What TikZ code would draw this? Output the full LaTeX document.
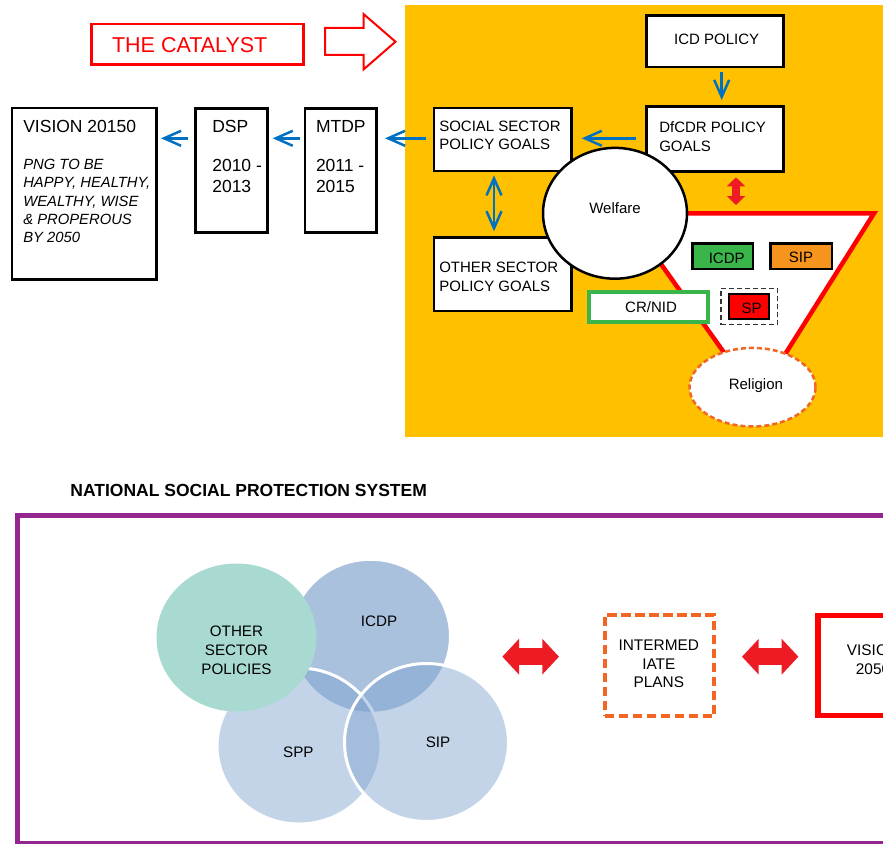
\documentclass[tikz,border=0pt]{standalone}
\usepackage{fontspec}
\setmainfont{Liberation Sans}
\usetikzlibrary{arrows.meta,shapes.geometric}

\definecolor{panelyellow}{RGB}{255,192,0}
\definecolor{flowblue}{RGB}{0,112,192}
\definecolor{boldred}{RGB}{237,28,36}
\definecolor{goodgreen}{RGB}{57,181,74}
\definecolor{siporange}{RGB}{247,148,29}
\definecolor{dashorange}{RGB}{242,101,34}
\definecolor{framepurple}{RGB}{147,39,143}
\definecolor{vennblue}{RGB}{124,160,205}
\definecolor{vennteal}{RGB}{168,218,210}

\newcommand\setfs[2]{\fontsize{#1pt}{#2pt}\selectfont}

\tikzset{
  box/.style={draw=black, line width=2.5pt, fill=white, inner sep=0pt, outer sep=0pt},
  lbl/.style={inner sep=0pt, outer sep=0pt},
  blocktxt/.style={lbl, anchor=north west, align=left},
  barb/.tip={Straight Barb[length=17pt,width=15pt]},
  flow/.style={draw=flowblue, line width=2.5pt, -barb},
  flowboth/.style={draw=flowblue, line width=2.5pt, barb-barb},
  redlink/.style={draw=boldred, line width=8pt,
    {Triangle[length=9pt,width=18pt]}-{Triangle[length=9pt,width=18pt]}},
  fatlink/.style={draw=boldred, line width=16.7pt,
    {Triangle[length=16.7pt,width=34.7pt]}-{Triangle[length=16.7pt,width=34.7pt]}},
  tag/.style={draw=black, line width=2.5pt, inner sep=0pt, outer sep=0pt},
  venn/.style={ellipse, draw=white, line width=3pt, inner sep=0pt, outer sep=0pt},
}

\begin{document}
\begin{tikzpicture}[x=1pt,y=-1pt]
\useasboundingbox (0,0) rectangle (883,843);
\clip (0,0) rectangle (883,843);

% ---------- policy panel background ----------
\fill[panelyellow] (405,5) rectangle (895,437);

% ---------- the catalyst ----------
\node[draw=red, line width=2.5pt, inner sep=0pt, outer sep=0pt,
      minimum width=212.4pt, minimum height=40.7pt] (catalyst) at (197.5,44.35) {};
\node[lbl, text=red, font=\setfs{21.5}{24}] (catalysttext) at (189.7,44.7) {THE CATALYST};
\draw[draw=red, line width=2pt, fill=white, line join=miter]
  (325,28) -- (363.5,28) -- (363.5,14) -- (395.5,41.7) -- (363.5,69.5) -- (363.5,55) -- (325,55) -- cycle;

% ---------- planning chain ----------
\node[box, minimum width=144.5pt, minimum height=171.7pt] (vision) at (84.25,193.85) {};
\node[blocktxt, font=\setfs{17.5}{20}] (visiontitle) at (23.3,120) {VISION 20150};
\node[blocktxt, font=\itshape\setfs{14.8}{18.3}] (visionbody) at (23.3,159.3)
  {PNG TO BE\\HAPPY, HEALTHY,\\WEALTHY, WISE\\\& PROPEROUS\\BY 2050};

\node[box, minimum width=72.4pt, minimum height=124.4pt] (dsp) at (231.5,170.5) {};
\node[blocktxt, font=\setfs{17.5}{20}] (dsptitle) at (212.3,120) {DSP};
\node[blocktxt, font=\setfs{17.5}{20.5}] (dspyears) at (212.3,159.3) {2010 -\\2013};

\node[box, minimum width=71.5pt, minimum height=124.4pt] (mtdp) at (340.75,170.5) {};
\node[blocktxt, font=\setfs{17.5}{20}] (mtdptitle) at (316,120) {MTDP};
\node[blocktxt, font=\setfs{17.5}{20.5}] (mtdpyears) at (316,159.3) {2011 -\\2015};

% ---------- policy boxes ----------
\node[box, minimum width=137.4pt, minimum height=51.7pt] (icd) at (715,41.15) {};
\node[lbl, font=\setfs{15}{18}] (icdtext) at (716.7,39.5) {ICD POLICY};

\node[box, minimum width=137.4pt, minimum height=65pt] (dfcdr) at (715,138.8) {};
\node[blocktxt, font=\setfs{15}{18.6}] (dfcdrtext) at (659.3,121.7) {DfCDR POLICY\\GOALS};

\node[box, minimum width=137.4pt, minimum height=63pt] (social) at (502.7,139.5) {};
\node[blocktxt, font=\setfs{15}{18.6}] (socialtext) at (439.3,120.7) {SOCIAL SECTOR\\POLICY GOALS};

\node[box, minimum width=137.4pt, minimum height=73.7pt] (other) at (502.7,274.15) {};
\node[blocktxt, font=\setfs{15}{18.6}] (othertext) at (439.3,262.3) {OTHER SECTOR\\POLICY GOALS};

% ---------- blue connectors ----------
\coordinate (flowrow) at (0,138.3);
\coordinate (icdcol) at (721.7,0);
\coordinate (sidecol) at (494,0);
\draw[flow, shorten <=10.3pt, shorten >=10.3pt] (dfcdr.west |- flowrow) -- (social.east |- flowrow);
\draw[flow, shorten <=8pt, shorten >=8.5pt] (social.west |- flowrow) -- (mtdp.east |- flowrow);
\draw[flow, shorten <=5pt, shorten >=5pt] (mtdp.west |- flowrow) -- (dsp.east |- flowrow);
\draw[flow, shorten <=7.3pt, shorten >=4.5pt] (dsp.west |- flowrow) -- (vision.east |- flowrow);
\draw[flow, shorten <=5pt, shorten >=6.3pt] (icd.south -| icdcol) -- (dfcdr.north -| icdcol);
\draw[flowboth, shorten <=4.3pt, shorten >=6pt] (social.south -| sidecol) -- (other.north -| sidecol);

% ---------- protection funnel ----------
\draw[draw=red, line width=4.5pt, fill=white, line join=miter]
  (624.8,213.3) -- (874,213.3) -- (773.9,372) -- (737.9,372) -- cycle;
\coordinate (funneltop) at (736,213.3);
\draw[redlink, shorten <=6pt, shorten >=8.3pt] (dfcdr.south -| funneltop) -- (funneltop);

\node[ellipse, draw=black, line width=2.5pt, fill=white, inner sep=0pt, outer sep=0pt,
      minimum width=144pt, minimum height=130.8pt] (welfare) at (615,213.3) {};
\node[lbl, font=\setfs{15}{18}] (welfaretext) at (615,208.4) {Welfare};

\node[tag, fill=goodgreen, minimum width=60.7pt, minimum height=25.3pt] (icdpbox) at (722.65,256.15) {};
\node[lbl, font=\setfs{15}{18}] (icdpboxtext) at (726.7,258) {ICDP};
\node[tag, fill=siporange, minimum width=61.5pt, minimum height=25.3pt] (sipbox) at (801.25,256.15) {};
\node[lbl, font=\setfs{15}{18}] (sipboxtext) at (801,257.5) {SIP};

\node[draw=goodgreen, line width=4pt, fill=white, inner sep=0pt, outer sep=0pt,
      minimum width=119.3pt, minimum height=30pt] (crnid) at (648.35,307) {};
\node[lbl, font=\setfs{15}{18}] (crnidtext) at (651,306.7) {CR/NID};

\node[draw=black!80, line width=1.5pt, dash pattern=on 5pt off 3pt, inner sep=0pt, outer sep=0pt,
      minimum width=56.3pt, minimum height=36.4pt] (spframe) at (749.15,306.5) {};
\node[draw=black, line width=2pt, fill=red, inner sep=0pt, outer sep=0pt,
      minimum width=39.7pt, minimum height=25pt] (spbox) at (749.15,306.8) {};
\node[lbl, font=\setfs{15}{18}] (spboxtext) at (751.7,308.3) {SP};

\node[ellipse, draw=dashorange, line width=2.5pt, dash pattern=on 5pt off 3pt, fill=white,
      inner sep=0pt, outer sep=0pt, minimum width=126pt, minimum height=78.5pt] (religion) at (752.5,387.2) {};
\node[lbl, font=\setfs{15}{18}] (religiontext) at (755.9,385.8) {Religion};

% ---------- national social protection system ----------
\node[lbl, anchor=west, font=\bfseries\setfs{17.5}{20}] (nsps) at (70.4,490.7) {NATIONAL SOCIAL PROTECTION SYSTEM};
\draw[draw=framepurple, line width=5pt] (17.5,515.8) rectangle (950,843.8);

\node[venn, fill=vennblue, fill opacity=0.65, minimum width=160pt, minimum height=154pt] (vicdp) at (370.5,636.3) {};
\node[venn, fill=vennblue, fill opacity=0.45, minimum width=164pt, minimum height=156pt] (vspp) at (299,746) {};
\node[venn, fill=vennblue, fill opacity=0.45, minimum width=164pt, minimum height=158pt] (vsip) at (426.5,742.5) {};
\node[ellipse, fill=vennteal, inner sep=0pt, outer sep=0pt, minimum width=160pt, minimum height=148pt] (vother) at (236.5,637.5) {};

\node[lbl, align=center, font=\setfs{15.2}{18.6}] (vothertext) at (236.5,650.3) {OTHER\\SECTOR\\POLICIES};
\node[lbl, font=\setfs{15.2}{18}] (vicdptext) at (379,621.7) {ICDP};
\node[lbl, font=\setfs{15.2}{18}] (vspptext) at (298.4,752.7) {SPP};
\node[lbl, font=\setfs{15.2}{18}] (vsiptext) at (438,742.7) {SIP};

\node[draw=dashorange, line width=4pt, dash pattern=on 9.5pt off 4.5pt, inner sep=0pt, outer sep=0pt,
      minimum width=109.7pt, minimum height=101pt] (intermed) at (659.35,665.8) {};
\node[lbl, align=center, font=\setfs{15.4}{18.3}] (intermedtext) at (658.8,664) {INTERMED\\IATE\\PLANS};

\node[draw=red, line width=5.5pt, inner sep=0pt, outer sep=0pt,
      minimum width=110pt, minimum height=100.2pt] (vision2050) at (873,665.4) {};
\node[lbl, align=center, font=\setfs{15.4}{19}] (vision2050text) at (873,660) {VISION\\2050};

\coordinate (fatAleft) at (502.3,656.7);
\coordinate (fatAright) at (559,656.7);
\coordinate (fatBleft) at (742,656.7);
\coordinate (fatBright) at (798.4,656.7);
\draw[fatlink] (fatAleft) -- (fatAright);
\draw[fatlink] (fatBleft) -- (fatBright);
\end{tikzpicture}
\end{document}
